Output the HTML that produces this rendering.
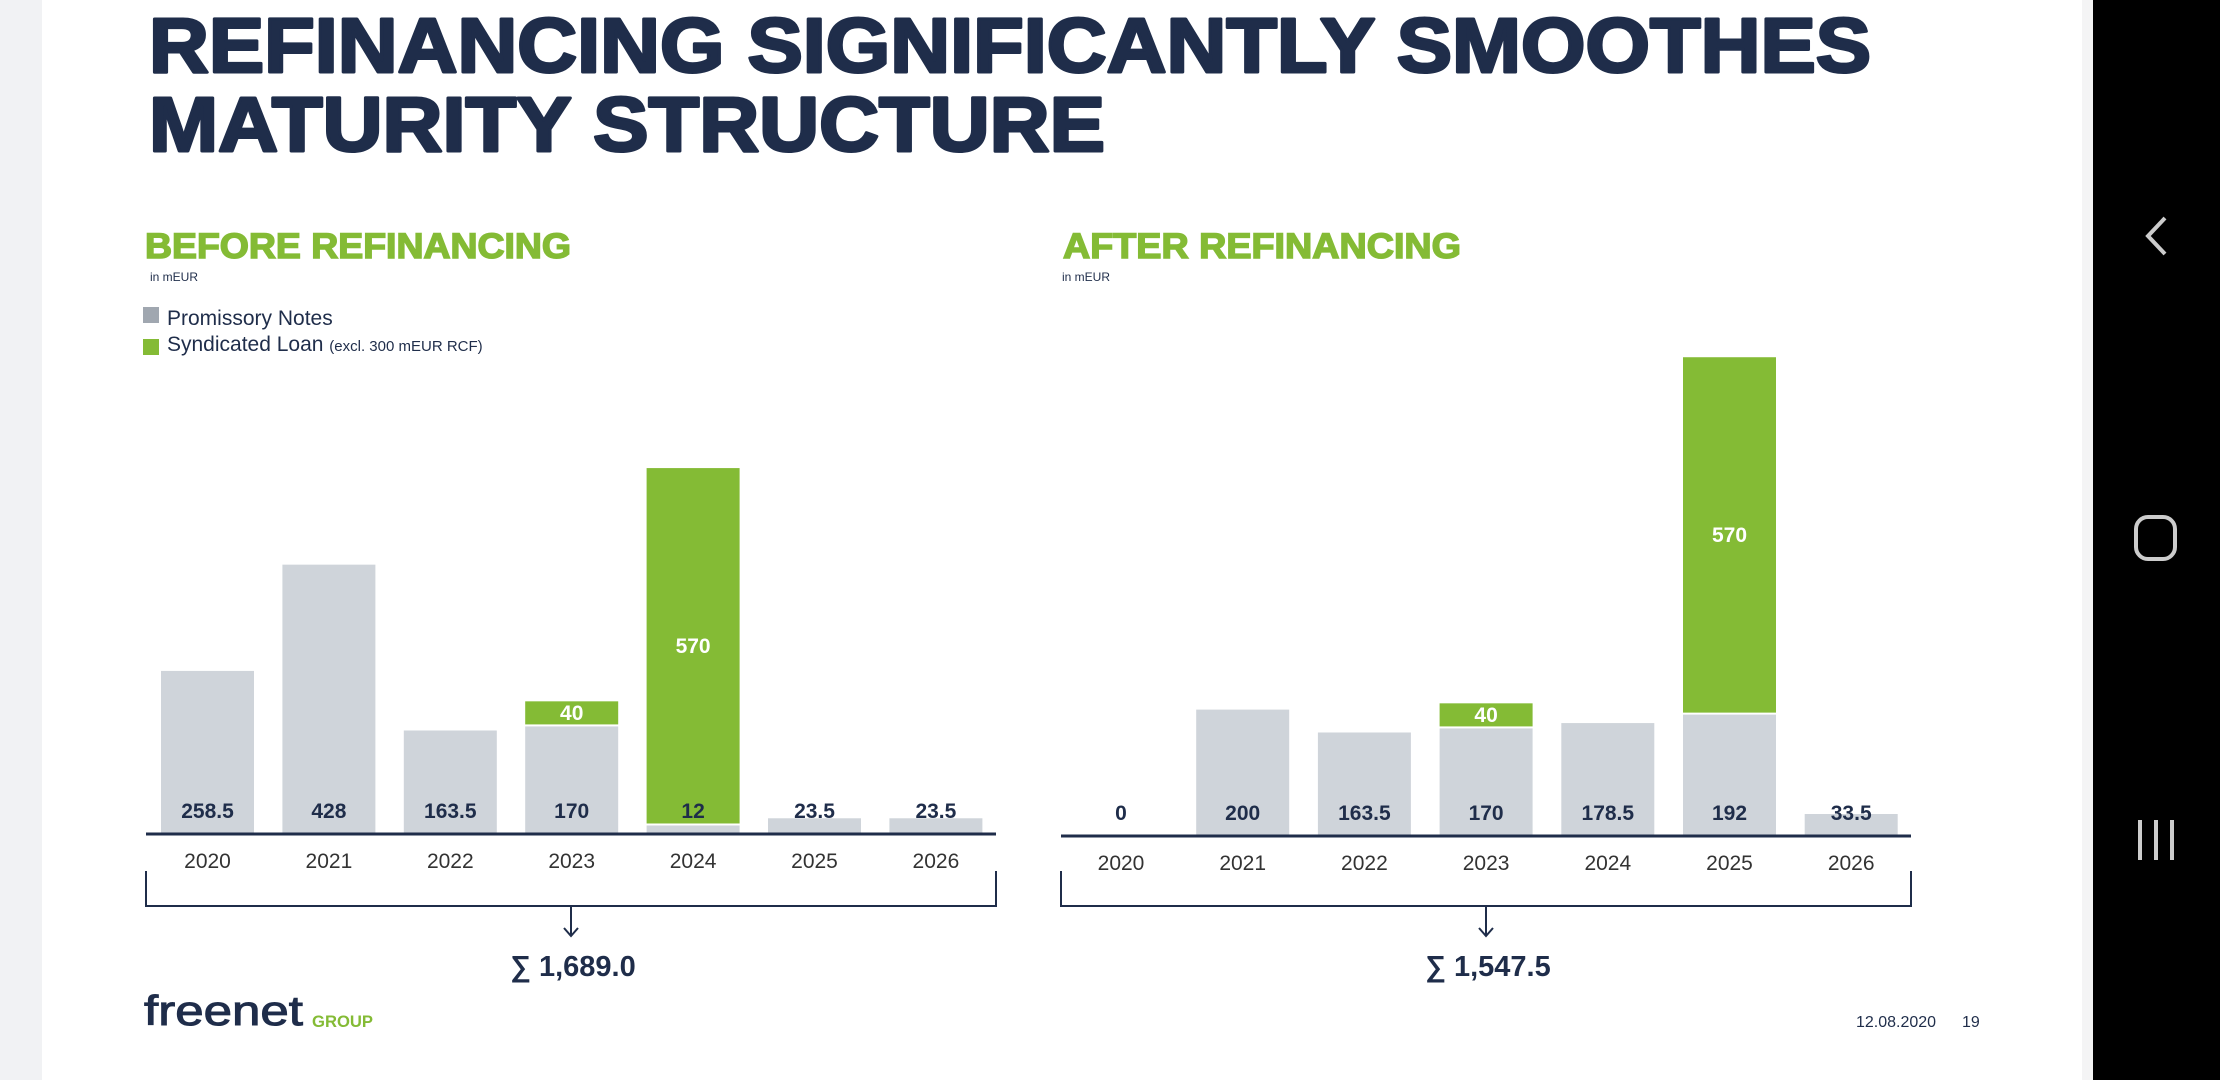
<!DOCTYPE html>
<html><head><meta charset="utf-8"><style>
html,body{margin:0;padding:0;width:2220px;height:1080px;overflow:hidden;background:#fff}
svg{display:block}
text{font-family:"Liberation Sans",Arial,sans-serif}
</style></head><body>
<svg id="root" width="2220" height="1080" viewBox="0 0 2220 1080">
<rect x="0" y="0" width="42" height="1080" fill="#f1f2f4"/>
<rect x="2082" y="0" width="12" height="1080" fill="#f4f4f5"/>
<rect x="2093" y="0" width="127" height="1080" fill="#000"/>
<path d="M2165 218 L2148 236 L2165 254" fill="none" stroke="#ccc" stroke-width="4"/>
<rect x="2136" y="517" width="39" height="42" rx="12" fill="none" stroke="#ccc" stroke-width="4"/>
<g stroke="#ccc" stroke-width="4"><line x1="2140" y1="820" x2="2140" y2="860"/><line x1="2156" y1="820" x2="2156" y2="860"/><line x1="2172" y1="820" x2="2172" y2="860"/></g>

<text x="149" y="72" font-size="77" font-weight="bold" fill="#1f2d4a" stroke="#1f2d4a" stroke-width="3" stroke-linejoin="round" textLength="1722" lengthAdjust="spacingAndGlyphs">REFINANCING SIGNIFICANTLY SMOOTHES</text>
<text x="149" y="151" font-size="77" font-weight="bold" fill="#1f2d4a" stroke="#1f2d4a" stroke-width="3" stroke-linejoin="round" textLength="956" lengthAdjust="spacingAndGlyphs">MATURITY STRUCTURE</text>

<text x="145" y="258" font-size="35" font-weight="bold" fill="#84bb35" stroke="#84bb35" stroke-width="1.5" textLength="426" lengthAdjust="spacingAndGlyphs">BEFORE REFINANCING</text>
<text x="150" y="281" font-size="12" fill="#1f2d4a">in mEUR</text>
<text x="1063" y="258" font-size="35" font-weight="bold" fill="#84bb35" stroke="#84bb35" stroke-width="1.5" textLength="398" lengthAdjust="spacingAndGlyphs">AFTER REFINANCING</text>
<text x="1062" y="281" font-size="12" fill="#1f2d4a">in mEUR</text>

<g>
<rect x="143" y="307" width="16" height="16" fill="#a0a7b0"/>
<text x="167" y="325" font-size="21" fill="#1f2d4a">Promissory Notes</text>
<rect x="143" y="339" width="16" height="16" fill="#84bb35"/>
<text x="167" y="351" font-size="21" fill="#1f2d4a">Syndicated Loan <tspan font-size="15">(excl. 300 mEUR RCF)</tspan></text>
</g>

<g id="chartBefore"></g>
<g id="chartAfter"></g>

<text x="144" y="1025" font-size="42" fill="#1f2d4a" stroke="#1f2d4a" stroke-width="1" textLength="159" lengthAdjust="spacingAndGlyphs">freenet</text>
<text x="312" y="1027" font-size="17" font-weight="bold" fill="#84bb35" textLength="61" lengthAdjust="spacingAndGlyphs">GROUP</text>
<text x="1856" y="1027" font-size="16" fill="#1f2d4a">12.08.2020<tspan x="1962">19</tspan></text>
</svg>
<script>
const years = ["2020","2021","2022","2023","2024","2025","2026"];
const beforeNotes = [258.5, 428, 163.5, 170, 12, 23.5, 23.5];
const beforeLoan = [0, 0, 0, 40, 570, 0, 0];
const afterNotes = [0, 200, 163.5, 170, 178.5, 192, 33.5];
const afterLoan = [0, 0, 0, 40, 0, 570, 0];
const beforeTotal = "\u2211 1,689.0";
const afterTotal = "\u2211 1,547.5";

const NS = "http://www.w3.org/2000/svg";
function mk(tag, attrs, parent){
  const e = document.createElementNS(NS, tag);
  for (const k in attrs) e.setAttribute(k, attrs[k]);
  parent.appendChild(e);
  return e;
}
function draw(g, cfg, notes, loan, total){
  const yScale = v => cfg.base - v * 0.627;
  const xCenter = i => cfg.x0 + i * cfg.pitch;
  const bw = 93;
  for (let i = 0; i < years.length; i++){
    const cx = xCenter(i);
    if (notes[i] > 0){
      const r = mk("rect", {x: cx - bw/2, y: yScale(notes[i]), width: bw, height: cfg.base - yScale(notes[i]), fill: "#cfd4da"}, g);
      
      
    }
    if (loan[i] > 0){
      const top = yScale(notes[i] + loan[i]);
      const bot = yScale(notes[i]) - 2;
      const r = mk("rect", {x: cx - bw/2, y: top, width: bw, height: bot - top, fill: "#84bb35"}, g);
      
      
      const t = mk("text", {x: cx, y: (top + bot)/2 + 7, "text-anchor": "middle", "font-size": 21, "font-weight": "bold", fill: "#fff"}, g);
      t.textContent = loan[i];
      
      
    }
    const t = mk("text", {x: cx, y: cfg.base - 15, "text-anchor": "middle", "font-size": 21, "font-weight": "bold", fill: "#1f2d4a"}, g);
    t.textContent = notes[i];
    
    
    const y = mk("text", {x: cx, y: cfg.base + 35, "text-anchor": "middle", "font-size": 21, fill: "#333"}, g);
    y.textContent = years[i];
    
    
  }
  const ax = mk("line", {x1: cfg.l, x2: cfg.r, y1: cfg.base + 1, y2: cfg.base + 1, stroke: "#1f2d4a", "stroke-width": 3}, g);
  
  
  const br = mk("path", {d: `M${cfg.l} 871 V906 H${cfg.r} V871`, fill: "none", stroke: "#1f2d4a", "stroke-width": 2}, g);
  
  
  const mid = (cfg.l + cfg.r)/2;
  const ar = mk("path", {d: `M${mid} 906 V936 M${mid-7} 928 L${mid} 936 L${mid+7} 928`, fill: "none", stroke: "#1f2d4a", "stroke-width": 2}, g);
  
  
  const st = mk("text", {x: mid + 2, y: 976, "text-anchor": "middle", "font-size": 29, "font-weight": "bold", fill: "#1f2d4a"}, g);
  st.textContent = total;
  
  
}
draw(document.getElementById("chartBefore"), {x0: 207.5, pitch: 121.4, base: 833, l: 146, r: 996}, beforeNotes, beforeLoan, beforeTotal);
draw(document.getElementById("chartAfter"), {x0: 1121, pitch: 121.7, base: 835, l: 1061, r: 1911}, afterNotes, afterLoan, afterTotal);
</script>
</body></html>
